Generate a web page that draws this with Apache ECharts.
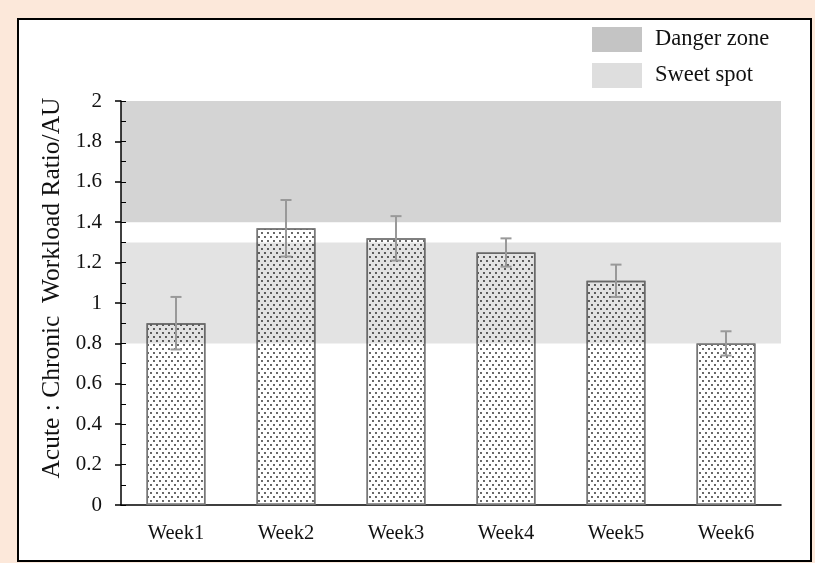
<!DOCTYPE html>
<html>
<head>
<meta charset="utf-8">
<script src="https://cdn.jsdelivr.net/npm/echarts@6/dist/echarts.min.js"></script>
<style>
  html, body { margin: 0; padding: 0; }
  #main { width: 815px; height: 563px; }
</style>
</head>
<body>
<div id="main"></div>
<script>
// 数据
var weeks = ['Week1', 'Week2', 'Week3', 'Week4', 'Week5', 'Week6'];
var ratio = [0.90, 1.37, 1.32, 1.25, 1.11, 0.80];
var upper = [1.03, 1.51, 1.43, 1.32, 1.19, 0.86];
var lower = [0.77, 1.23, 1.21, 1.18, 1.03, 0.74];
var dangerZone = [1.4, 2.0];
var sweetSpot = [0.8, 1.3];

var font = 'Liberation Serif';

// 1. 实例化对象
var myChart = echarts.init(document.getElementById('main'));

var errData = weeks.map(function (w, i) {
  return [i, lower[i], upper[i]];
});

// 2.指定配置
var option = {
  backgroundColor: '#fce8da',
  animation: false,
  graphic: [{
    type: 'rect',
    shape: { x: 18, y: 19, width: 793, height: 542 },
    style: { fill: '#fff', stroke: '#000', lineWidth: 2 },
    z: -10
  }],
  legend: {
    orient: 'vertical',
    left: 592,
    top: 27,
    padding: 0,
    itemWidth: 50,
    itemHeight: 25,
    itemGap: 11,
    icon: 'rect',
    selectedMode: false,
    textStyle: { fontFamily: font, fontSize: 22.5, color: '#111', padding: [0, 0, 0, 8] },
    data: [
      { name: 'Danger zone', itemStyle: { color: '#c4c4c4' } },
      { name: 'Sweet spot', itemStyle: { color: '#dedede' } }
    ]
  },
  grid: {
    left: 121,
    right: 34,
    top: 101,
    bottom: 58
  },
  xAxis: {
    type: 'category',
    data: weeks,
    axisLine: { lineStyle: { color: '#000', width: 1.5 } },
    axisTick: { show: false },
    axisLabel: { fontFamily: font, fontSize: 20.5, color: '#111', margin: 18 }
  },
  yAxis: [{
    type: 'value',
    min: 0,
    max: 2,
    interval: 0.2,
    name: 'Acute : Chronic  Workload Ratio/AU',
    nameLocation: 'middle',
    nameGap: 51,
    nameTextStyle: { fontFamily: font, fontSize: 25.5, color: '#111', padding: [0, 0, 0, 30] },
    axisLine: { show: true, lineStyle: { color: '#000', width: 1.5 } },
    axisTick: { show: true, length: 6, lineStyle: { color: '#000', width: 1.5 } },
    axisLabel: {
      fontFamily: font, fontSize: 21, color: '#111', margin: 19,
      formatter: function (v) { return String(Math.round(v * 10) / 10); }
    },
    splitLine: { show: false }
  }, {
    // 内侧小刻度
    type: 'value',
    position: 'left',
    min: 0,
    max: 2,
    interval: 0.1,
    axisLine: { show: false },
    axisTick: { show: true, inside: true, length: 5, lineStyle: { color: '#000', width: 1 } },
    axisLabel: { show: false },
    splitLine: { show: false }
  }],
  series: [
    {
      name: 'ratio',
      type: 'bar',
      data: ratio,
      barWidth: '53.6%',
      z: 2,
      itemStyle: {
        color: 'rgba(255,255,255,0)',
        borderColor: '#777',
        borderWidth: 1.5,
        decal: {
          symbol: 'circle',
          symbolSize: 0.9,
          color: '#222',
          backgroundColor: 'rgba(255,255,255,0)',
          dashArrayX: [[2, 4], [0, 3, 2, 1]],
          dashArrayY: [2, 2]
        }
      }
    },
    {
      name: 'Danger zone',
      type: 'line',
      data: [],
      z: 10,
      itemStyle: { color: '#c4c4c4' },
      lineStyle: { color: '#c4c4c4' },
      markArea: {
        silent: true,
        z: 10,
        label: { show: false },
        itemStyle: { color: 'rgba(0,0,0,0.17)' },
        data: [[{ yAxis: dangerZone[0] }, { yAxis: dangerZone[1] }]]
      }
    },
    {
      name: 'Sweet spot',
      type: 'line',
      data: [],
      z: 10,
      itemStyle: { color: '#dedede' },
      lineStyle: { color: '#dedede' },
      markArea: {
        silent: true,
        z: 10,
        label: { show: false },
        itemStyle: { color: 'rgba(0,0,0,0.11)' },
        data: [[{ yAxis: sweetSpot[0] }, { yAxis: sweetSpot[1] }]]
      }
    },
    {
      name: 'error',
      type: 'custom',
      z: 20,
      data: errData,
      renderItem: function (params, api) {
        var x = api.value(0);
        var lo = api.coord([x, api.value(1)]);
        var hi = api.coord([x, api.value(2)]);
        var half = 5.5;
        var style = { stroke: '#999', lineWidth: 2 };
        return {
          type: 'group',
          children: [
            { type: 'line', shape: { x1: hi[0], y1: hi[1], x2: lo[0], y2: lo[1] }, style: style },
            { type: 'line', shape: { x1: hi[0] - half, y1: hi[1], x2: hi[0] + half, y2: hi[1] }, style: style },
            { type: 'line', shape: { x1: lo[0] - half, y1: lo[1], x2: lo[0] + half, y2: lo[1] }, style: style }
          ]
        };
      }
    }
  ]
};
// 3. 把配置给实例对象
myChart.setOption(option);
// 4. 让图表跟随屏幕自动的去适应
window.addEventListener('resize', function () {
  myChart.resize();
});
</script>
</body>
</html>
